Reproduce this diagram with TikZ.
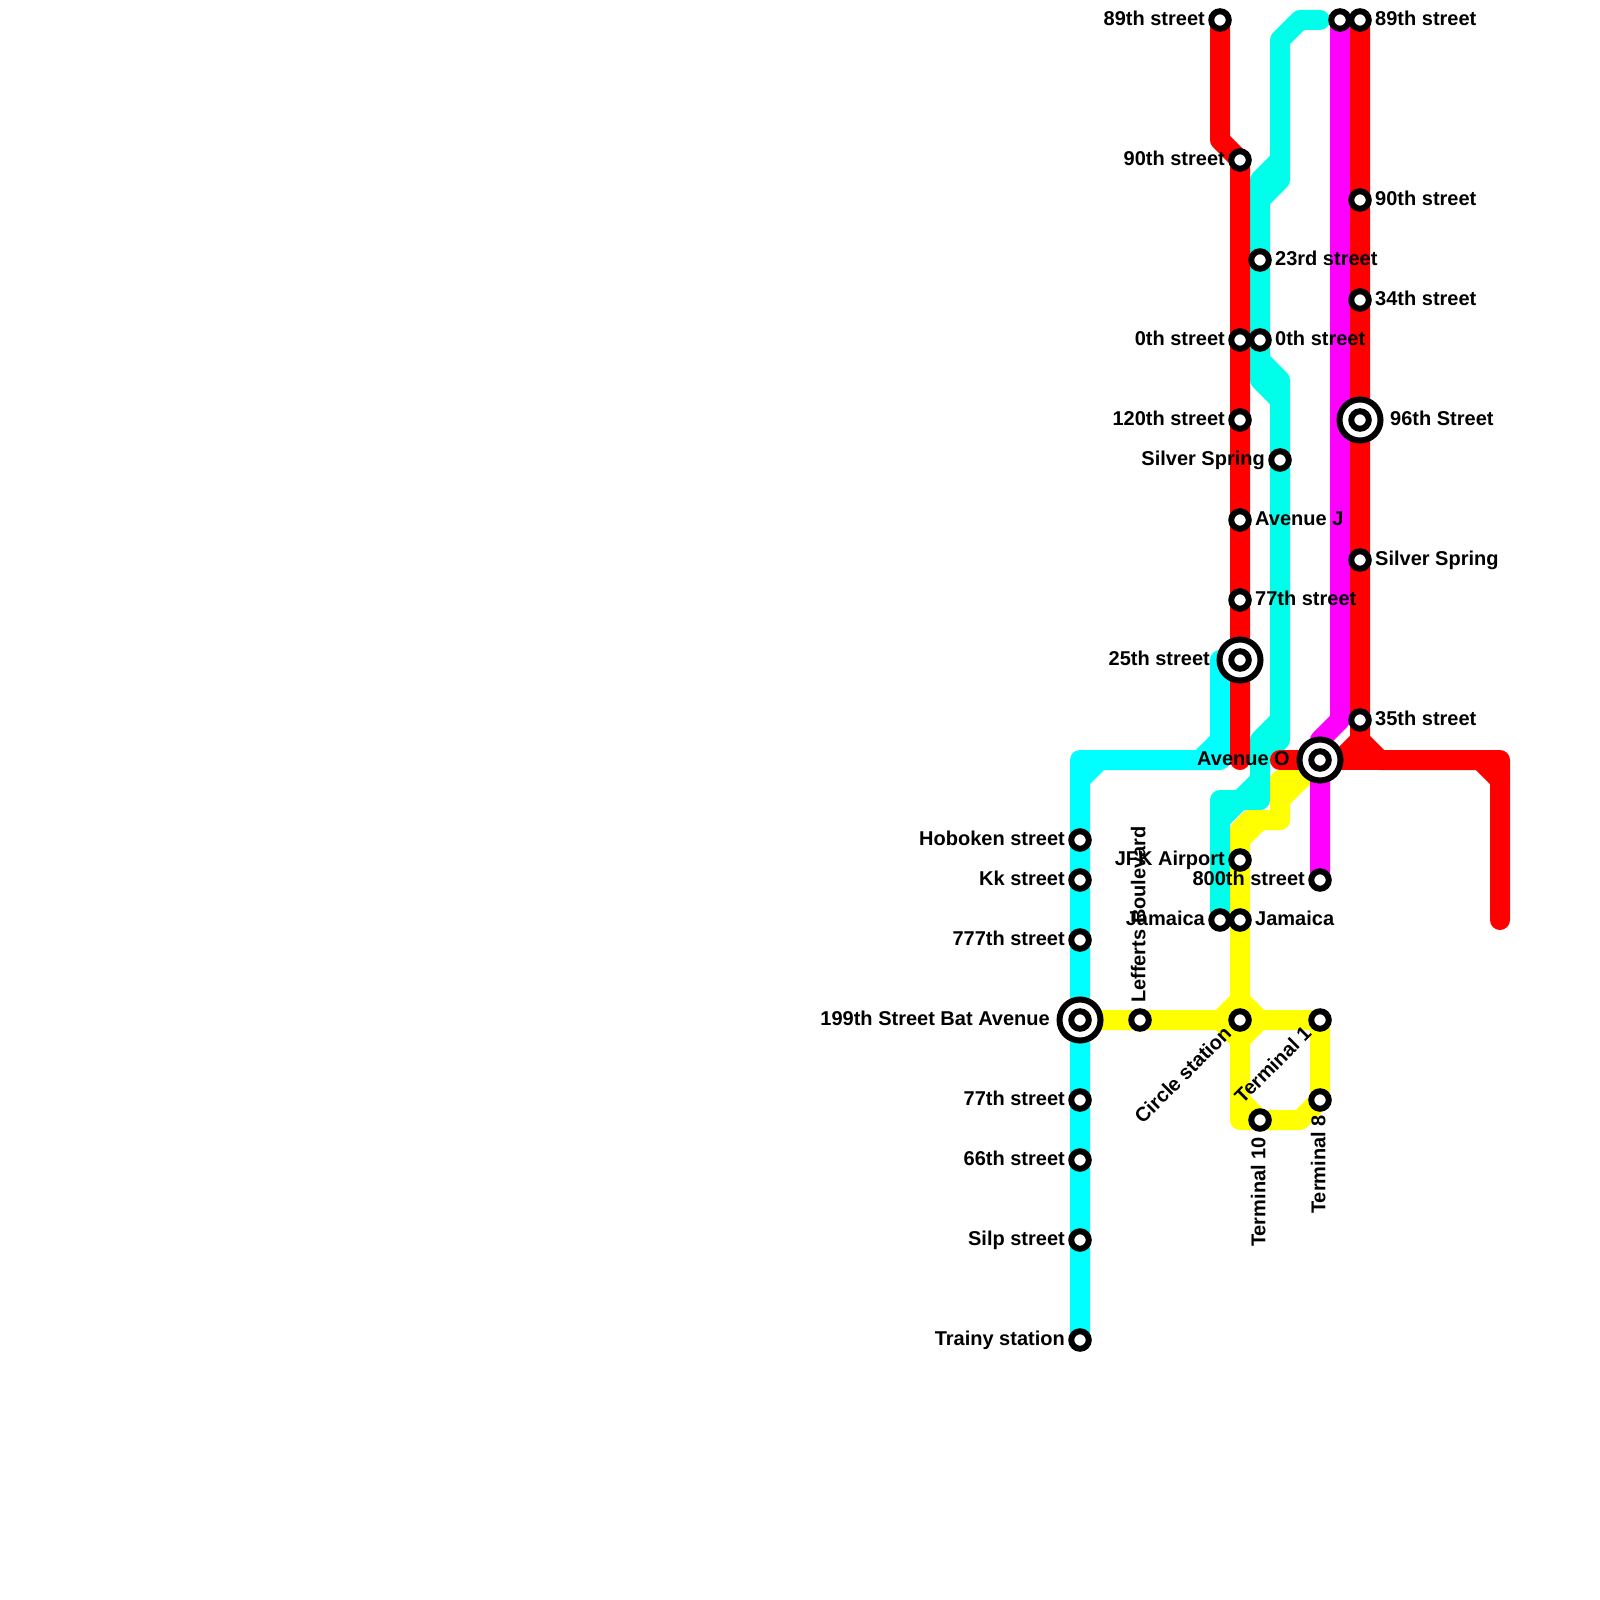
\documentclass[tikz,border=0pt]{standalone}
\usepackage{fontspec}
\setmainfont{Liberation Sans}
\usetikzlibrary{positioning, backgrounds}

\definecolor{linecyan}{HTML}{00FFFF}
\definecolor{lineaqua}{HTML}{00FFEA}
\definecolor{linered}{HTML}{FF0000}
\definecolor{linemagenta}{HTML}{FF00FF}
\definecolor{lineyellow}{HTML}{FFFF00}

\begin{document}
\begin{tikzpicture}[
	x=1pt, y=-1pt,
	stop/.style={circle, draw=black, fill=white, line width=6pt, minimum size=17.5pt, inner sep=0pt},
	hub/.style={circle, draw=black, fill=white, line width=6pt, minimum size=41pt, inner sep=0pt},
	lbl/.style={inner sep=0pt, text height=15pt, text depth=4.5pt, font=\bfseries\fontsize{20}{24}\selectfont},
	metro/.style={line width=20pt, line cap=round, line join=round}
]
	\useasboundingbox (0,0) rectangle (1600,1600);

	% Cyan line stations
	\node[stop] (hoboken) at (1080,840) {};
	\node[stop] (kk) at (1080,880) {};
	\node[stop] (st777) at (1080,940) {};
	\node[hub] (hubbat) at (1080,1020) {};
	\node[stop] (bat) at (1080,1020) {};
	\node[stop] (st77w) at (1080,1100) {};
	\node[stop] (st66) at (1080,1160) {};
	\node[stop] (silp) at (1080,1240) {};
	\node[stop] (trainy) at (1080,1340) {};

	% Red line stations, west branch
	\node[stop] (st89w) at (1220,20) {};
	\node[stop] (st90w) at (1240,160) {};
	\node[stop] (st0w) at (1240,340) {};
	\node[stop] (st120) at (1240,420) {};
	\node[stop] (avej) at (1240,520) {};
	\node[stop] (st77c) at (1240,600) {};
	\node[hub] (hubtwentyfive) at (1240,660) {};
	\node[stop] (st25) at (1240,660) {};

	% Aqua line stations
	\node[stop] (st23) at (1260,260) {};
	\node[stop] (st0e) at (1260,340) {};
	\node[stop] (silverw) at (1280,460) {};
	\node[stop] (jamaicaw) at (1220,920) {};

	% Magenta line stations
	\node[stop] (topm) at (1340,20) {};
	\node[hub] (hubaveo) at (1320,760) {};
	\node[stop] (aveo) at (1320,760) {};
	\node[stop] (st800) at (1320,880) {};

	% Red line stations, east branch
	\node[stop] (st89e) at (1360,20) {};
	\node[stop] (st90e) at (1360,200) {};
	\node[stop] (st34) at (1360,300) {};
	\node[hub] (hubninetysix) at (1360,420) {};
	\node[stop] (st96) at (1360,420) {};
	\node[stop] (silvere) at (1360,560) {};
	\node[stop] (st35) at (1360,720) {};

	% Yellow line stations
	\node[stop] (jfk) at (1240,860) {};
	\node[stop] (jamaicae) at (1240,920) {};
	\node[stop] (lefferts) at (1140,1020) {};
	\node[stop] (circlest) at (1240,1020) {};
	\node[stop] (term1) at (1320,1020) {};
	\node[stop] (term8) at (1320,1100) {};
	\node[stop] (term10) at (1260,1120) {};

	% Free line ends
	\coordinate (aquatop) at (1320,20);
	\coordinate (redeast) at (1500,920);
	\coordinate (redwest) at (1240,760);
	\coordinate (redstub) at (1280,760);
	\coordinate (cyantop) at (1240,660);

	\begin{scope}[on background layer]
		% Aqua line
		\draw[metro, lineaqua] (aquatop) -- (1300,20) -- (1280,40) -- (1280,180) -- (1260,200) -- (st23.center) -- (st0e.center) -- (1260,360) -- (1280,380) -- (silverw.center) -- (1280,720) -- (1260,740) -- (1260,800) -- (1220,800) -- (jamaicaw.center);
		\draw[metro, lineaqua] (1280,160) -- (1260,180) -- (1260,200);
		\draw[metro, lineaqua] (1260,360) -- (1260,380) -- (1280,400);
		\draw[metro, lineaqua] (1280,720) -- (1280,740) -- (1260,760) -- (1260,780) -- (1240,800) -- (1220,820);

		% Cyan line
		\draw[metro, linecyan] (cyantop) -- (1220,660) -- (1220,740) -- (1200,760) -- (1080,760) -- (hoboken.center) -- (trainy.center);
		\draw[metro, linecyan] (1240,740) -- (1220,760) -- (1200,760);
		\draw[metro, linecyan] (1080,780) -- (1100,760);

		% Yellow line
		\draw[metro, lineyellow] (bat.center) -- (lefferts.center) -- (1220,1020) -- (1240,1000) -- (1260,1020) -- (term1.center) -- (term8.center) -- (1300,1120) -- (term10.center) -- (1240,1120) -- (1240,1040) -- (1220,1020);
		\draw[metro, lineyellow] (1260,1020) -- (1240,1040);
		\draw[metro, lineyellow] (1240,1100) -- (term10.center);
		\draw[metro, lineyellow] (aveo.center) -- (1280,800) -- (1280,820) -- (1260,820) -- (1240,840) -- (jfk.center) -- (circlest.center);
		\draw[metro, lineyellow] (aveo.center) -- (1300,780) -- (1280,780) -- (1280,820) -- (1250,820) -- (1240,830) -- (1240,840);

		% Magenta line
		\draw[metro, linemagenta] (topm.center) -- (1340,720) -- (1320,740) -- (aveo.center) -- (st800.center);

		% Red lines
		\draw[metro, linered] (st89w.center) -- (1220,140) -- (st90w.center) -- (redwest);
		\draw[metro, linered] (st89e.center) -- (st35.center) -- (1360,740) -- (1380,760) -- (1500,760) -- (redeast);
		\draw[metro, linered] (1480,760) -- (1500,780);
		\draw[metro, linered] (1360,740) -- (1340,760);
		\draw[metro, linered] (redstub) -- (1380,760);
	\end{scope}

	% Labels, left side
	\node[lbl, left=15pt of hoboken.center] (hobokenlbl) {Hoboken street};
	\node[lbl, left=15pt of kk.center] (kklbl) {Kk street};
	\node[lbl, left=15pt of st777.center] (st777lbl) {777th street};
	\node[lbl, left=30pt of bat.center] (batlbl) {199th Street Bat Avenue};
	\node[lbl, left=15pt of st77w.center] (st77wlbl) {77th street};
	\node[lbl, left=15pt of st66.center] (st66lbl) {66th street};
	\node[lbl, left=15pt of silp.center] (silplbl) {Silp street};
	\node[lbl, left=15pt of trainy.center] (trainylbl) {Trainy station};
	\node[lbl, left=15pt of st89w.center] (st89wlbl) {89th street};
	\node[lbl, left=15pt of st90w.center] (st90wlbl) {90th street};
	\node[lbl, left=15pt of st0w.center] (st0wlbl) {0th street};
	\node[lbl, left=15pt of st120.center] (st120lbl) {120th street};
	\node[lbl, left=30pt of st25.center] (st25lbl) {25th street};
	\node[lbl, left=15pt of silverw.center] (silverwlbl) {Silver Spring};
	\node[lbl, left=30pt of aveo.center] (aveolbl) {Avenue O};
	\node[lbl, left=15pt of jfk.center] (jfklbl) {JFK Airport};
	\node[lbl, left=15pt of st800.center] (st800lbl) {800th street};
	\node[lbl, left=15pt of jamaicaw.center] (jamaicawlbl) {Jamaica};

	% Labels, right side
	\node[lbl, right=15pt of avej.center] (avejlbl) {Avenue J};
	\node[lbl, right=15pt of st77c.center] (st77clbl) {77th street};
	\node[lbl, right=15pt of st23.center] (st23lbl) {23rd street};
	\node[lbl, right=15pt of st0e.center] (st0elbl) {0th street};
	\node[lbl, right=15pt of st89e.center] (st89elbl) {89th street};
	\node[lbl, right=15pt of st90e.center] (st90elbl) {90th street};
	\node[lbl, right=15pt of st34.center] (st34lbl) {34th street};
	\node[lbl, right=30pt of st96.center] (st96lbl) {96th Street};
	\node[lbl, right=15pt of silvere.center] (silverelbl) {Silver Spring};
	\node[lbl, right=15pt of st35.center] (st35lbl) {35th street};
	\node[lbl, right=15pt of jamaicae.center] (jamaicaelbl) {Jamaica};

	% Rotated labels
	\node[lbl, above=17pt of lefferts.center, rotate=90, anchor=west] (lefferslbl) {Lefferts Boulevard};
	\node[lbl, below=17pt of term10.center, rotate=90, anchor=east] (term10lbl) {Terminal 10};
	\node[lbl, below=15pt of term8.center, rotate=90, anchor=east] (term8lbl) {Terminal 8};
	\node[lbl, below left=11pt and 11pt of circlest.center, rotate=45, anchor=east] (circlestlbl) {Circle station};
	\node[lbl, below left=11pt and 11pt of term1.center, rotate=45, anchor=east] (term1lbl) {Terminal 1};
\end{tikzpicture}
\end{document}
